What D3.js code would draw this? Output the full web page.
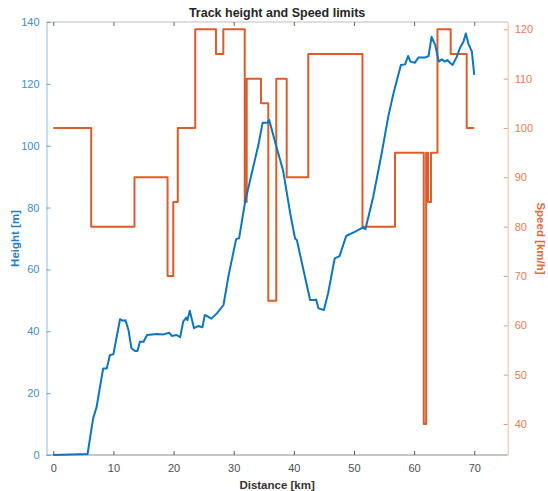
<!DOCTYPE html>
<html>
<head>
<meta charset="utf-8">
<script src="https://cdn.jsdelivr.net/npm/d3@7"></script>
<style>
  body { margin: 0; background: #fff; }
  svg { font-family: "Liberation Sans", Arial, sans-serif; }
</style>
</head>
<body>
<svg id="chart"></svg>
<script>
// height profile along the track
let heightKm = [0, 5.7, 6.4, 6.65, 7.2, 7.77, 8.3, 8.9, 9.4, 10.0, 11.1, 11.6, 12.0, 12.5, 13.0, 13.6,
  14.0, 14.4, 15.0, 15.6, 17.2, 18.3, 19.3, 19.7, 20.5, 21.1, 21.6, 22.1, 22.3, 22.7, 23.4, 24.1,
  24.8, 25.2, 26.3, 27.2, 28.3, 29.1, 30.4, 30.9, 31.9, 33.0, 34.1, 34.8, 35.6, 35.9, 37.1, 38.2,
  39.4, 40.2, 40.5, 41.6, 42.7, 43.5, 43.7, 44.1, 45.0, 45.7, 46.8, 47.6, 48.7, 50.2, 51.5, 51.9,
  53.2, 54.6, 55.7, 56.5, 57.8, 58.5, 59.0, 59.4, 60.1, 60.7, 61.8, 62.4, 62.9, 63.5, 64.1, 64.6,
  65.1, 65.5, 65.96, 66.4, 67.1, 67.6, 68.2, 68.6, 69.0, 69.6, 70.0];
let heightM = [0, 0.3, 9.1, 12.0, 15.5, 22.1, 28.0, 28.0, 32.3, 32.6, 43.9, 43.4, 43.6, 40.4, 34.5, 33.6,
  33.6, 36.6, 36.6, 38.8, 39.1, 39.0, 39.5, 38.5, 38.8, 38.1, 43.1, 44.4, 43.6, 46.6, 41.0, 41.7,
  41.3, 45.3, 44.1, 45.8, 48.5, 57.6, 69.8, 70.1, 81.9, 91.1, 100.2, 107.4, 107.4, 108.3, 99.7, 92.1,
  78.1, 70.0, 69.5, 59.8, 50.1, 50.1, 50.3, 47.4, 46.9, 52.3, 63.6, 64.3, 70.8, 72.2, 73.6, 73.0,
  83.5, 97.5, 109.4, 116.4, 126.1, 126.3, 129.0, 127.2, 126.8, 128.5, 128.5, 129.0, 135.2, 132.6, 127.2, 127.9,
  127.2, 127.7, 126.8, 126.1, 128.8, 131.5, 133.6, 136.3, 133.1, 130.4, 122.9];

// speed limit segments: value starts at km and holds until the next km
let speedKm = [0, 6.3, 13.5, 19.0, 19.95, 20.7, 23.6, 27.05, 28.27, 31.83, 32.16, 34.54, 35.75,
  37.08, 38.81, 42.4, 51.41, 56.82, 61.6, 62.0, 62.3, 62.8, 63.88, 66.08, 68.74, 70.0];
let speedVal = [100, 80, 90, 70, 85, 100, 120, 115, 120, 85, 110, 105, 65,
  110, 90, 115, 80, 95, 40, 95, 85, 95, 120, 115, 100, 100];

let xTicks = [0, 10, 20, 30, 40, 50, 60, 70];
let heightTicks = [0, 20, 40, 60, 80, 100, 120, 140];
let speedTicks = [40, 50, 60, 70, 80, 90, 100, 110, 120];

let blue = "#0a76c2";
let orange = "#de5c28";

function getConfig() {
  let width = 548;
  let height = 491;
  let margin = {left: 46.5, right: 548 - 507.7, top: 22, bottom: 491 - 455};
  let svg = d3.select("#chart").attr("width", width).attr("height", height);
  return {width, height, margin, svg};
}

function getScales(config) {
  let {margin, width, height} = config;
  let x = d3.scaleLinear().domain([-1.13, 75.56]).range([margin.left, width - margin.right]);
  let yH = d3.scaleLinear().domain([0, 140]).range([height - margin.bottom, margin.top]);
  let yS = d3.scaleLinear().domain([33.72, 121.48]).range([height - margin.bottom, margin.top]);
  return {x, yH, yS};
}

function drawAxes(config, scales) {
  let {svg, margin, width, height} = config;
  let {x, yH, yS} = scales;
  let top = margin.top, bottom = height - margin.bottom;
  let left = margin.left, right = width - margin.right;

  // top and bottom frame
  svg.append("line").attr("x1", left).attr("x2", right).attr("y1", top).attr("y2", top)
    .attr("stroke", "#bdbdbd").attr("stroke-width", 1);
  svg.append("line").attr("x1", left).attr("x2", right).attr("y1", bottom).attr("y2", bottom)
    .attr("stroke", "#8c8c8c").attr("stroke-width", 1);

  let bottomAxis = svg.append("g").attr("transform", `translate(0,${bottom})`)
    .call(d3.axisBottom(x).tickValues(xTicks).tickSizeInner(-4).tickSizeOuter(0).tickPadding(9));
  bottomAxis.select(".domain").remove();
  bottomAxis.selectAll("line").attr("stroke", "#555");
  bottomAxis.selectAll("text").attr("fill", "#4d4d4d").attr("font-size", 11);

  let topAxis = svg.append("g").attr("transform", `translate(0,${top})`)
    .call(d3.axisTop(x).tickValues(xTicks).tickSizeInner(-4).tickSizeOuter(0).tickFormat(""));
  topAxis.select(".domain").remove();
  topAxis.selectAll("line").attr("stroke", "#666");

  let leftAxis = svg.append("g").attr("transform", `translate(${left},0)`)
    .call(d3.axisLeft(yH).tickValues(heightTicks).tickSizeInner(-4).tickSizeOuter(0).tickPadding(7));
  leftAxis.select(".domain").attr("stroke", "#a6cdec").attr("stroke-width", 1.3);
  leftAxis.selectAll(".tick line").attr("stroke", "#5fa3da");
  leftAxis.selectAll("text").attr("fill", "#3b8ed3").attr("font-size", 11);

  let rightAxis = svg.append("g").attr("transform", `translate(${right},0)`)
    .call(d3.axisRight(yS).tickValues(speedTicks).tickSizeInner(-4).tickSizeOuter(0).tickPadding(7));
  rightAxis.select(".domain").attr("stroke", "#f6c7b3").attr("stroke-width", 1.3);
  rightAxis.selectAll(".tick line").attr("stroke", "#ee9a78");
  rightAxis.selectAll("text").attr("fill", "#e97a50").attr("font-size", 11);

  svg.append("text").attr("x", (left + right) / 2).attr("y", 17)
    .attr("text-anchor", "middle").attr("font-weight", "bold").attr("font-size", 12.5)
    .attr("fill", "#262626").text("Track height and Speed limits");
  svg.append("text").attr("x", (left + right) / 2).attr("y", 489)
    .attr("text-anchor", "middle").attr("font-weight", "bold").attr("font-size", 11.5)
    .attr("fill", "#333").text("Distance [km]");
  svg.append("text")
    .attr("transform", `translate(19,${(top + bottom) / 2}) rotate(-90)`)
    .attr("text-anchor", "middle").attr("font-weight", "bold").attr("font-size", 11.5)
    .attr("fill", "#1f7fc9").text("Height [m]");
  svg.append("text")
    .attr("transform", `translate(537,${(top + bottom) / 2}) rotate(90)`)
    .attr("text-anchor", "middle").attr("font-weight", "bold").attr("font-size", 11.5)
    .attr("fill", "#e0693d").text("Speed [km/h]");
}

function drawLines(config, scales) {
  let {svg} = config;
  let {x, yH, yS} = scales;
  let heightData = heightKm.map((k, i) => ({km: k, v: heightM[i]}));
  let speedData = speedKm.map((k, i) => ({km: k, v: speedVal[i]}));

  let speedLine = d3.line().curve(d3.curveStepAfter)
    .x(d => x(d.km)).y(d => yS(d.v));
  svg.append("path").datum(speedData)
    .attr("d", speedLine)
    .attr("fill", "none").attr("stroke", orange).attr("stroke-width", 2)
    .attr("stroke-linejoin", "round");

  let heightLine = d3.line().x(d => x(d.km)).y(d => yH(d.v));
  svg.append("path").datum(heightData)
    .attr("d", heightLine)
    .attr("fill", "none").attr("stroke", blue).attr("stroke-width", 2)
    .attr("stroke-linejoin", "round");
}

function showChart() {
  let config = getConfig();
  let scales = getScales(config);
  drawAxes(config, scales);
  drawLines(config, scales);
}

showChart();
</script>
</body>
</html>
